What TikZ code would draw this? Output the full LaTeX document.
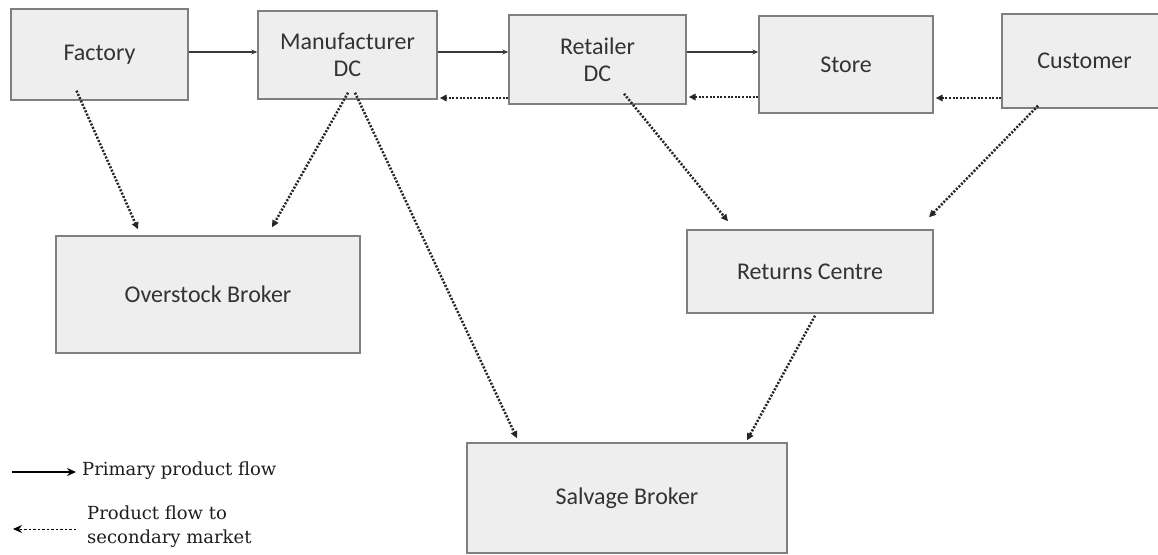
\documentclass[tikz,border=0pt]{standalone}
\usepackage{fontspec}
\newfontfamily\boxfont{Carlito}
\newfontfamily\legfont{DejaVu Serif}
\usetikzlibrary{arrows.meta,calc}
\definecolor{boxfill}{HTML}{EEEEEE}
\definecolor{boxline}{HTML}{7F7F7F}
\definecolor{txt}{HTML}{333333}
\definecolor{arr}{HTML}{383838}
\definecolor{darr}{HTML}{262626}
\definecolor{legtxt}{HTML}{1E1E1E}
\begin{document}
\begin{tikzpicture}[x=1pt,y=-1pt,
  box/.style={draw=boxline, fill=boxfill, line width=1.4pt, inner sep=0pt,
    text=txt, font=\boxfont\fontsize{24}{27}\selectfont, align=center},
  primary/.style={draw=arr, line width=1.4pt, -{Stealth[length=6pt,width=5pt]}},
  secondary/.style={draw=darr, line width=2.5pt, dash pattern=on 2pt off 1.6pt,
    -{Triangle[length=7pt,width=6.5pt]}},
  legsolid/.style={draw=black, line width=1.2pt, -{Stealth[length=9pt,width=8pt]}},
  legdash/.style={draw=black, line width=1pt, dash pattern=on 2.5pt off 2pt,
    -{Stealth[length=9pt,width=8pt]}},
  legtext/.style={anchor=west, inner sep=0pt, text=legtxt, align=left,
    font=\legfont\fontsize{18}{24}\selectfont}
]
\fill[white] (0,0) rectangle (1158,554);
\useasboundingbox (0,0) rectangle (1158,554);

% boxes
\node[box, minimum width=177pt, minimum height=91pt] (factory) at (99.5,54.5) {Factory};
\node[box, minimum width=179pt, minimum height=88pt] (mfr) at (347.5,55) {Manufacturer\\DC};
\node[box, minimum width=177pt, minimum height=89pt] (retailer) at (597.5,59.5) {Retailer\\DC};
\node[box, minimum width=174pt, minimum height=97pt] (store) at (846,64.5) {Store};
\node[box, minimum width=165pt, minimum height=94pt] (customer) at (1084.5,61) {Customer};
\node[box, minimum width=304pt, minimum height=117pt] (overstock) at (208,294.5) {Overstock Broker};
\node[box, minimum width=246pt, minimum height=83pt] (returns) at (810,271.5) {Returns Centre};
\node[box, minimum width=320pt, minimum height=110pt] (salvage) at (627,498) {Salvage Broker};

% primary flow
\draw[primary] ([yshift=2.5pt]factory.east) -- ([yshift=2.5pt]factory.east -| mfr.west);
\draw[primary] ([yshift=3pt]mfr.east) -- ([yshift=3pt]mfr.east -| retailer.west);
\draw[primary] ([yshift=7.5pt]retailer.east) -- ([yshift=7.5pt]retailer.east -| store.west);

% secondary flow, horizontal
\draw[secondary, shorten >=2pt] ([yshift=-38.5pt]retailer.west) -- ([yshift=-38.5pt]retailer.west -| mfr.east);
\draw[secondary, shorten >=2pt] ([yshift=-32.5pt]store.west) -- ([yshift=-32.5pt]store.west -| retailer.east);
\draw[secondary, shorten >=2pt] ([yshift=-37pt]customer.west) -- ([yshift=-37pt]customer.west -| store.east);

% secondary flow, diagonal
\draw[secondary] ([shift={(-23,-10)}]factory.south) -- ([shift={(-70,-6)}]overstock.north);
\draw[secondary] ([shift={(0.5,-7)}]mfr.south) -- ([shift={(64,-8)}]overstock.north);
\draw[secondary] ([shift={(7.5,-7)}]mfr.south) -- ([shift={(-110,-4)}]salvage.north);
\draw[secondary] ([shift={(26.5,-11)}]retailer.south) -- ([shift={(-82,-8)}]returns.north);
\draw[secondary] ([shift={(-46.5,-3)}]customer.south) -- ([shift={(119,-12)}]returns.north);
\draw[secondary] ([shift={(5,2)}]returns.south) -- ([shift={(120,-2)}]salvage.north);

% legend
\node[legtext] (leg1) at (82,471) {Primary product flow};
\coordinate (legA) at (12,472);
\draw[legsolid] (legA) -- ([shift={(-6,1)}]leg1.west);
\node[legtext] (leg2) at (87,527) {Product flow to\\secondary market};
\coordinate (legB) at (13,529);
\draw[legdash] ([shift={(-11,2)}]leg2.west) -- (legB);
\end{tikzpicture}
\end{document}
